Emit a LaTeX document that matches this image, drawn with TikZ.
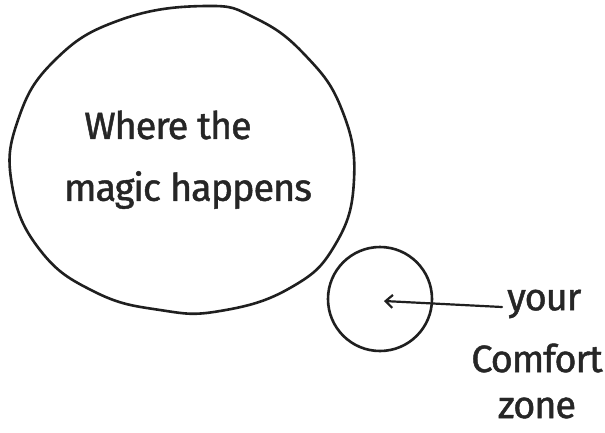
\documentclass[tikz,border=0pt]{standalone}
\usepackage{fontspec}
\setmainfont{Fira Sans}
\usetikzlibrary{arrows.meta}
\begin{document}
\begin{tikzpicture}[x=1pt,y=-1pt,
  ink/.style={draw=black!88,line width=2.6pt,line cap=round,line join=round},
  hand/.style={font=\fontsize{38}{40}\selectfont\addfontfeature{LetterSpace=-3,FakeBold=1.2},text=black!85,inner sep=0pt}]
\useasboundingbox (0,0) rectangle (605,432);
\fill[white] (0,0) rectangle (605,432);
% big blob
\draw[ink] plot[smooth cycle,tension=0.75] coordinates {
  (205,6) (255,18) (305,55) (342,110) (354,180) (335,245) (290,288)
  (220,311) (160,310) (95,292) (40,250) (12,185) (18,120) (55,60) (120,20)};
\node[hand] (magic1) at (168,125) {Where the};
\node[hand] (magic2) at (188,190) {magic happens};
% small circle
\node[circle,ink,minimum size=104pt,inner sep=0pt] (comfort) at (380,299) {};
\node[hand,anchor=west] (your) at (507,304) {your};
\node[hand] (comfort2) at (537,358) {Comfort};
\node[hand] (zone) at (537,408) {zone};
\draw[ink,line width=2.2pt,{Straight Barb[length=7pt,width=13pt]}-] (comfort.center) ++(4,2) -- ([xshift=-5pt,yshift=-3pt]your.west);
\end{tikzpicture}
\end{document}
